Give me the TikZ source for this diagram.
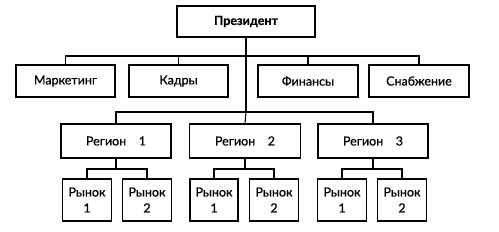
\documentclass[tikz,border=0pt]{standalone}
\usepackage{fontspec}
\setmainfont{Lato}[FakeBold=0.6,BoldFont={Lato Bold}]
\begin{document}
\begin{tikzpicture}[x=1pt,y=-1pt,
  box/.style={draw, line width=1.1pt, inner sep=0pt, align=center, font=\fontsize{12.5}{16}\selectfont},
  wire/.style={draw, line width=1.1pt}]
\useasboundingbox (0,0) rectangle (499,232);
% president
\node[box, minimum width=138pt, minimum height=31pt, font=\fontsize{12.5}{16}\selectfont\bfseries] (pres) at (246,21.5) {Президент};
% departments
\node[box, minimum width=99pt, minimum height=32pt] (mk) at (65.5,81) {Маркетинг};
\node[box, minimum width=99pt, minimum height=32pt] (kd) at (178.5,81) {Кадры};
\node[box, minimum width=100pt, minimum height=32pt] (fn) at (308,81) {Финансы};
\node[box, minimum width=100pt, minimum height=32pt] (sn) at (419,81) {Снабжение};
% regions
\node[box, minimum width=110pt, minimum height=34pt] (r1) at (116,141) {Регион\quad 1};
\node[box, minimum width=111pt, minimum height=34pt] (r2) at (245,141) {Регион\quad 2};
\node[box, minimum width=110pt, minimum height=34pt] (r3) at (373,141) {Регион\quad 3};
% markets
\node[box, minimum width=49pt, minimum height=42pt] (m11) at (87,200) {Рынок\\1};
\node[box, minimum width=49pt, minimum height=42pt] (m12) at (147,200) {Рынок\\2};
\node[box, minimum width=48pt, minimum height=42pt] (m21) at (214,200) {Рынок\\1};
\node[box, minimum width=49pt, minimum height=42pt] (m22) at (274,200) {Рынок\\2};
\node[box, minimum width=49pt, minimum height=42pt] (m31) at (342,200) {Рынок\\1};
\node[box, minimum width=49pt, minimum height=42pt] (m32) at (402,200) {Рынок\\2};
% bus coordinates
\coordinate (dbus) at (246,56);
\coordinate (rbus) at (246,112);
\coordinate (b1) at (116,169);
\coordinate (b2) at (245,169);
\coordinate (b3) at (373,169);
% connectors
\draw[wire] (pres.south) -- (rbus);
\draw[wire] (mk.north) |- (dbus) -| (sn.north);
\draw[wire] (kd.north) -- (kd.north |- dbus);
\draw[wire] (fn.north) -- (fn.north |- dbus);
\draw[wire] (r1.north) |- (rbus) -| (r3.north);
\draw[wire] (r2.north) -- (rbus);
\draw[wire] (r1.south) -- (b1);
\draw[wire] (m11.north) |- (b1) -| (m12.north);
\draw[wire] (r2.south) -- (b2);
\draw[wire] (m21.north) |- (b2) -| (m22.north);
\draw[wire] (r3.south) -- (b3);
\draw[wire] (m31.north) |- (b3) -| (m32.north);
\end{tikzpicture}
\end{document}
